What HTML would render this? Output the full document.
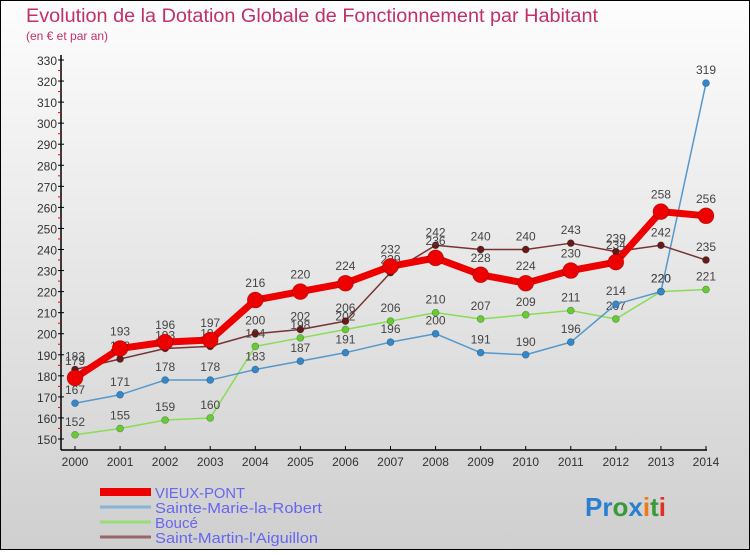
<!DOCTYPE html>
<html><head><meta charset="utf-8"><style>
body{margin:0;width:750px;height:550px;overflow:hidden;font-family:"Liberation Sans",sans-serif}
svg text{font-family:"Liberation Sans",sans-serif}
</style></head><body>
<svg id="chart" width="750" height="550" viewBox="0 0 750 550" xmlns="http://www.w3.org/2000/svg">
<defs><linearGradient id="bg" x1="0" y1="0" x2="0" y2="1"><stop offset="0" stop-color="#fdfdfd"/><stop offset="1" stop-color="#cfcfcf"/></linearGradient></defs>
<rect x="0.5" y="0.5" width="749" height="549" fill="url(#bg)" stroke="#000"/>
<text x="26" y="22" font-size="19" fill="#c0306a" textLength="572" lengthAdjust="spacingAndGlyphs">Evolution de la Dotation Globale de Fonctionnement par Habitant</text>
<text x="26" y="40" font-size="12" fill="#c0306a">(en € et par an)</text>
<g id="axes"></g><g id="series"></g><g id="legend"></g>
<text x="585" y="516" font-size="26" font-weight="bold"><tspan fill="#2a7fd0">Pr</tspan><tspan fill="#3a9a3a">o</tspan><tspan fill="#2a7fd0">x</tspan><tspan fill="#f07a10">i</tspan><tspan fill="#3a9a3a">t</tspan><tspan fill="#e03020">i</tspan></text>
</svg>
<script>
const years=[2000,2001,2002,2003,2004,2005,2006,2007,2008,2009,2010,2011,2012,2013,2014];
const yTicks=[150,160,170,180,190,200,210,220,230,240,250,260,270,280,290,300,310,320,330];
const vieuxPont=[179,193,196,197,216,220,224,232,236,228,224,230,234,258,256];
const sainteMarie=[167,171,178,178,183,187,191,196,200,191,190,196,214,220,319];
const bouce=[152,155,159,160,194,198,202,206,210,207,209,211,207,220,221];
const saintMartin=[183,188,193,194,200,202,206,229,242,240,240,243,239,242,235];
const seriesNames=["VIEUX-PONT","Sainte-Marie-la-Robert","Boucé","Saint-Martin-l'Aiguillon"];
const NS="http://www.w3.org/2000/svg";
const x=i=>75+i*(706-75)/(years.length-1);
const y=v=>439-(v-150)*(439-60)/180;
function mk(tag,attrs,parent){const e=document.createElementNS(NS,tag);for(const k in attrs)e.setAttribute(k,attrs[k]);parent.appendChild(e);return e;}
const ax=document.getElementById('axes');
let a=mk('line',{x1:61,y1:55,x2:61,y2:450,stroke:'#000','stroke-width':1.5},ax);


a=mk('line',{x1:61,y1:450,x2:707,y2:450,stroke:'#000','stroke-width':1.5},ax);


yTicks.forEach(v=>{
 const t=mk('line',{x1:58,x2:64,y1:y(v),y2:y(v),stroke:'#000'},ax);
 
 
 const l=mk('text',{x:57,y:y(v)+5,'font-size':12,'text-anchor':'end',fill:'#333'},ax);
 l.textContent=v;
 
 
 if(v<330){const m=mk('line',{x1:58,x2:61,y1:y(v+5),y2:y(v+5),stroke:'#e00'},ax);
 
 }
});
years.forEach((yr,i)=>{
 const t=mk('line',{x1:x(i),x2:x(i),y1:446,y2:450,stroke:'#000'},ax);
 
 
 const l=mk('text',{x:x(i),y:466,'font-size':12,'text-anchor':'middle',fill:'#333'},ax);
 l.textContent=yr;
 
 
});
const sg=document.getElementById('series');
const defs=[[bouce,'#88dd55','#66cc33',1.5,3.5,'bouce'],[sainteMarie,'#5599cc','#3388cc',1.5,3.5,'sainte-marie'],[saintMartin,'#773333','#661a1a',1.5,3.5,'saint-martin'],[vieuxPont,'#ee0000','#ee0000',7,8,'vieux-pont']];
defs.forEach(([d,lc,pc,w,r,n])=>{
 const p=mk('polyline',{points:d.map((v,i)=>x(i)+','+y(v)).join(' '),fill:'none',stroke:lc,'stroke-width':w,'stroke-linejoin':'round'},sg);
 
 
 d.forEach((v,i)=>{
  const c=mk('circle',{cx:x(i),cy:y(v),r:r,fill:pc,stroke:'rgba(0,0,0,0.3)','stroke-width':0.7},sg);
  
  
  const t=mk('text',{x:x(i),y:y(v)-(n==='vieux-pont'?13:9),'font-size':12,'text-anchor':'middle',fill:'#444'},sg);
  t.textContent=v;
  
  
 });
});
const lg=document.getElementById('legend');
const lcols=['#ee0000','#88b4d8','#99dd77','#996666'];
const lw=[8,3,3,3];
seriesNames.forEach((s,i)=>{
 const yy=492+i*15;
 const l=mk('line',{x1:100,x2:151,y1:yy,y2:yy,stroke:lcols[i],'stroke-width':lw[i]},lg);
 
 
 const t=mk('text',{x:155,y:yy+6,'font-size':15,fill:'#6666ee'},lg);
 t.textContent=s;
 t.setAttribute('textLength',[90,167,43,163][i]);
 t.setAttribute('lengthAdjust','spacingAndGlyphs');
 
 
});
</script>
</body></html>
